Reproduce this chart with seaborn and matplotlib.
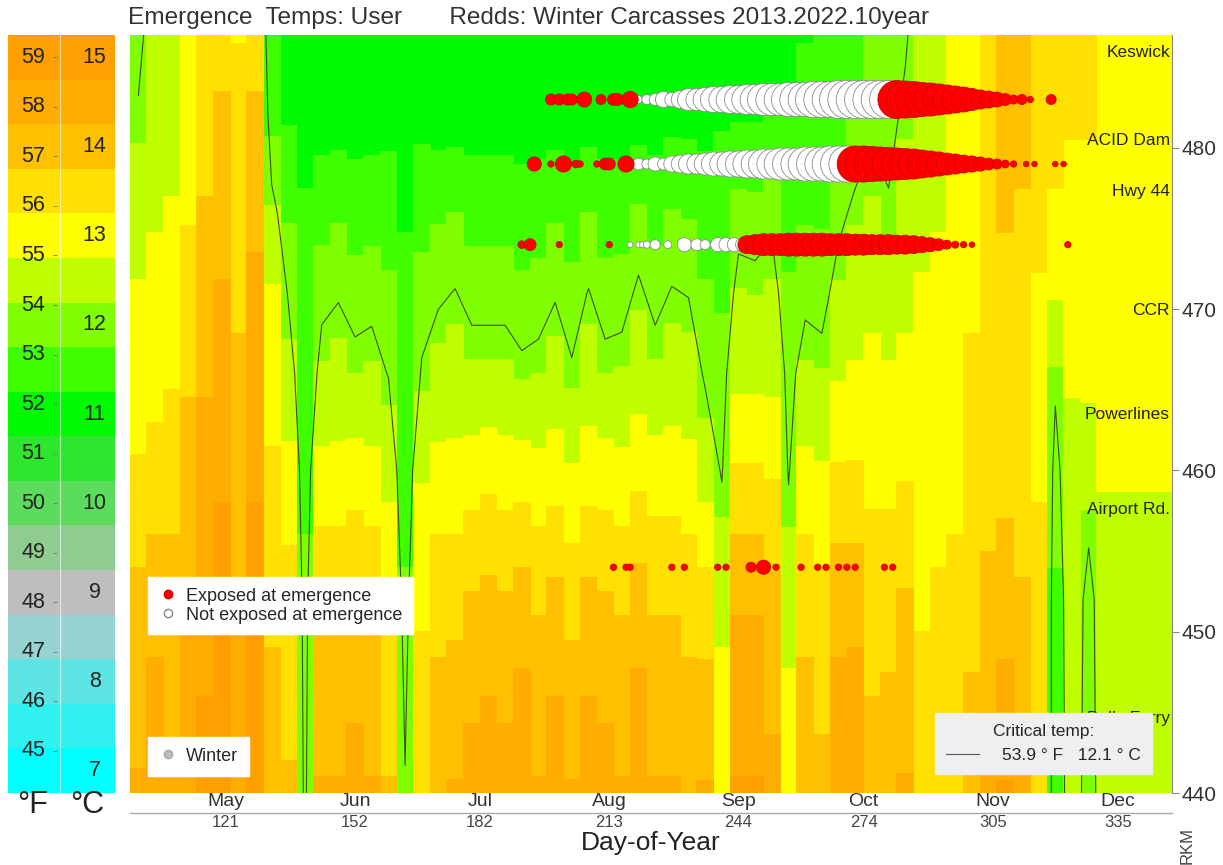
import numpy as np
import pandas as pd
import matplotlib
matplotlib.use("Agg")
import matplotlib.pyplot as plt
import matplotlib.transforms as mtransforms
from matplotlib.lines import Line2D
import seaborn as sns

sns.set_style("white")
plt.rcParams["font.family"] = ["Liberation Sans", "DejaVu Sans"]

# ---------------- data ----------------
title = "Emergence  Temps: User       Redds: Winter Carcasses 2013.2022.10year"

# temperature bands (deg C) and their colours
band_temps = [7.0, 7.5, 8.0, 8.5, 9.0, 9.5, 10.0, 10.5, 11.0, 11.5, 12.0, 12.5,
              13.0, 13.5, 14.0, 14.5, 15.0]
band_colors = ["#00FFFF", "#30F0F0", "#5FE4E4", "#97D3D3", "#BEBEBE", "#8FCC8F",
               "#5CDC5C", "#2EE62E", "#00FA00", "#40FF00", "#80FF00", "#BFFF00",
               "#FFFF00", "#FFE000", "#FFC000", "#FFAD00", "#FF9F00"]
f_labels = [45, 46, 47, 48, 49, 50, 51, 52, 53, 54, 55, 56, 57, 58, 59]
c_labels = [7, 8, 9, 10, 11, 12, 13, 14, 15]

# day bins (4-day) and river km rows (top to bottom)
day_edges = list(range(98, 351, 4))
rkm_rows = [488, 482, 476, 471, 466, 460, 452, 440]

t488 = [11.9, 12.4, 12.2, 12.8, 13.3, 13.6, 13.2, 13.6, 11.2, 11.0, 11.0, 10.8, 10.8, 10.8, 10.8, 10.9,
        10.9, 10.9, 10.8, 10.8, 10.8, 10.8, 10.8, 10.8, 10.8, 10.8, 10.8, 10.8, 10.8, 10.8, 10.8, 10.9,
        10.9, 10.9, 10.9, 11.0, 11.0, 11.0, 11.1, 11.1, 11.2, 11.3, 11.4, 11.5, 11.7, 11.8, 12.0, 12.4,
        12.5, 12.8, 13.0, 13.5, 14.0, 14.0, 13.6, 13.5, 13.4, 13.5, 13.0, 13.0, 13.0, 13.0, 13.0]
t482 = [12.15, 12.5, 12.5, 13.0, 13.5, 13.8, 13.4, 13.8, 11.6, 11.2, 11.1, 11.0, 11.0, 11.0, 11.0, 11.1,
        11.0, 11.1, 11.0, 11.0, 11.0, 11.0, 11.0, 11.0, 11.0, 11.0, 11.0, 11.0, 11.0, 11.0, 11.0, 11.0,
        11.1, 11.1, 11.1, 11.2, 11.2, 11.2, 11.3, 11.3, 11.4, 11.5, 11.6, 11.8, 12.0, 11.95, 12.2, 12.5,
        12.6, 12.9, 13.0, 13.5, 14.0, 13.9, 13.5, 13.4, 13.3, 13.3, 13.0, 13.0, 13.0, 13.0, 13.0]
t476 = [12.5, 12.7, 12.8, 13.2, 13.8, 14.0, 13.6, 14.1, 12.3, 11.7, 11.3, 11.6, 11.7, 11.55, 11.6, 11.5,
        11.2, 11.6, 11.7, 11.75, 11.6, 11.6, 11.6, 11.5, 11.55, 11.7, 11.5, 11.75, 11.55, 11.55, 11.82, 11.6,
        11.77, 11.72, 11.5, 11.5, 11.92, 11.89, 12.0, 11.6, 11.7, 11.7, 11.98, 12.2, 12.3, 12.15, 12.4, 12.6,
        12.7, 13.0, 13.1, 13.5, 13.8, 13.7, 13.4, 13.2, 13.1, 13.1, 13.0, 13.0, 13.0, 13.0, 13.0]
t471 = [12.8, 12.9, 13.0, 13.5, 14.0, 14.3, 13.7, 14.4, 12.8, 12.05, 11.5, 11.97, 12.06, 11.92, 11.96, 11.85,
        11.4, 11.9, 12.03, 12.12, 11.96, 11.96, 11.96, 11.85, 11.9, 12.06, 11.9, 12.12, 11.9, 11.93, 12.18, 11.96,
        12.13, 12.08, 11.8, 11.7, 12.27, 12.24, 12.3, 11.8, 12.0, 11.93, 12.3, 12.5, 12.6, 12.5, 12.6, 12.8,
        12.9, 13.0, 13.2, 13.4, 13.6, 13.5, 13.2, 12.8, 12.9, 13.0, 13.0, 13.0, 13.0, 13.0, 13.0]
t466 = [13.0, 13.1, 13.2, 13.7, 14.2, 14.5, 13.8, 14.6, 13.1, 12.4, 11.6, 12.3, 12.4, 12.25, 12.3, 12.08,
        11.5, 12.15, 12.38, 12.45, 12.31, 12.31, 12.31, 12.2, 12.25, 12.41, 12.15, 12.45, 12.25, 12.28, 12.5, 12.31,
        12.45, 12.43, 12.03, 11.9, 12.6, 12.6, 12.6, 11.95, 12.3, 12.27, 12.7, 12.8, 12.9, 12.8, 12.9, 13.0,
        13.0, 13.1, 13.3, 13.4, 13.5, 13.4, 13.1, 12.2, 12.8, 12.9, 13.0, 13.0, 13.0, 13.0, 13.0]
t460 = [13.3, 13.4, 13.5, 13.9, 14.4, 14.7, 13.9, 14.7, 13.3, 12.9, 11.7, 12.9, 12.9, 13.0, 12.9, 12.6,
        11.6, 12.7, 12.9, 12.9, 13.0, 13.1, 13.0, 13.0, 12.9, 13.0, 12.8, 13.0, 13.0, 12.9, 13.1, 13.0,
        13.0, 12.9, 12.5, 12.05, 13.3, 13.3, 13.2, 12.05, 12.9, 12.8, 13.3, 13.3, 13.1, 13.1, 13.2, 13.1,
        13.1, 13.2, 13.4, 13.5, 13.6, 13.5, 13.2, 11.9, 12.6, 12.4, 12.8, 12.8, 12.8, 12.8, 12.8]
t452 = [13.9, 14.1, 14.0, 14.3, 14.7, 14.9, 14.3, 14.9, 13.7, 13.5, 11.8, 13.7, 13.7, 13.8, 13.7, 13.2,
        11.8, 13.2, 13.6, 13.6, 13.8, 13.9, 13.8, 14.0, 13.7, 13.9, 13.6, 13.9, 13.8, 13.7, 14.0, 13.7,
        13.7, 13.6, 13.5, 12.6, 14.2, 14.2, 13.9, 12.5, 13.6, 13.4, 14.1, 14.1, 13.6, 13.6, 13.8, 13.2,
        13.3, 13.3, 13.6, 13.9, 14.0, 13.8, 13.4, 11.7, 12.5, 11.9, 12.5, 12.5, 12.5, 12.5, 12.5]
t440 = [14.3, 14.6, 14.3, 14.5, 14.8, 15.0, 14.5, 14.8, 13.9, 13.8, 11.9, 14.3, 14.3, 14.5, 14.3, 13.8,
        12.15, 13.5, 14.1, 14.3, 14.5, 14.6, 14.5, 14.7, 14.3, 14.6, 14.3, 14.6, 14.5, 14.3, 14.7, 14.3,
        14.3, 14.1, 14.3, 13.2, 14.8, 14.8, 14.4, 13.2, 14.1, 13.9, 14.6, 14.7, 13.9, 14.0, 14.3, 13.5,
        13.7, 13.7, 14.0, 14.5, 14.8, 14.5, 13.7, 11.6, 12.5, 11.8, 12.5, 12.5, 12.5, 12.5, 12.5]
critical_c = 12.1

# redd emergence bubbles: (day, redd count) per reach, exposed or not
r1_rkm = 483
r1_pre_days = [199, 201, 203, 204, 207, 211, 214, 215, 218]
r1_pre_n = [12, 12, 12, 12, 22, 10, 14, 14, 26]
r1_white_days = list(range(220, 281, 2))
r1_white_n = [6, 10, 14, 26, 20, 32, 48, 48, 58, 68, 68, 78, 78, 90, 90, 102, 102, 102, 116, 116,
              116, 130, 130, 130, 144, 144, 144, 144, 144, 144, 144]
r1_red_days = list(range(282, 313, 2)) + [314, 319]
r1_red_n = [144, 137, 130, 116, 109, 96, 84, 73, 62, 48, 36, 29, 22, 14, 8, 10, 4, 10]

r2_rkm = 479
r2_pre_days = [195, 199, 202, 205, 206, 210, 212, 213, 217]
r2_pre_n = [20, 4, 26, 6, 4, 4, 14, 14, 26]
r2_white_days = list(range(218, 271, 2))
r2_white_n = [10, 14, 10, 20, 14, 26, 32, 40, 40, 48, 58, 58, 68, 68, 78, 78, 90, 90, 102, 102,
              102, 116, 116, 116, 130, 130, 130]
r2_red_days = list(range(272, 311, 2)) + [313, 315, 320, 322]
r2_red_n = [130, 130, 122, 116, 109, 102, 96, 90, 78, 68, 58, 48, 40, 32, 26, 20, 14, 10, 6, 4,
            3, 3, 3, 3]

r3_rkm = 474
r3_pre_days = [192, 194, 201, 213]
r3_pre_n = [6, 14, 4, 4]
r3_white_days = [218, 220, 221, 222, 224, 227, 231, 234, 236, 239, 241, 243, 245]
r3_white_n = [3, 3, 4, 5, 10, 6, 20, 14, 10, 20, 20, 20, 20]
r3_red_days = list(range(246, 301, 2)) + [323]
r3_red_n = [32, 40, 48, 48, 48, 53, 53, 53, 53, 53, 48, 48, 48, 44, 44, 40, 40, 40, 36, 36,
            32, 26, 20, 14, 8, 5, 4, 3, 4]

r4_rkm = 454
r4_red_days = [214, 217, 218, 228, 231, 239, 241, 247, 250, 253, 259, 263, 265, 268, 270, 272, 279, 281]
r4_red_n = [4, 4, 4, 4, 4, 4, 4, 10, 20, 4, 4, 4, 4, 4, 4, 4, 4, 4]

month_names = ["May", "Jun", "Jul", "Aug", "Sep", "Oct", "Nov", "Dec"]
month_days = [121, 152, 182, 213, 244, 274, 305, 335]
rkm_ticks = [440, 450, 460, 470, 480]
site_names = ["Keswick", "ACID Dam", "Hwy 44", "CCR", "Powerlines", "Airport Rd.", "Balls Ferry"]
site_rkm = [485.9, 480.45, 477.3, 469.9, 463.45, 457.6, 444.65]

# ---------------- figure ----------------
W, H = 1223, 865
fig = plt.figure(figsize=(W / 100, H / 100), dpi=100)
ax = fig.add_axes([130 / W, 72 / H, 1042 / W, 758 / H])

levels = [band_temps[0] - 0.25] + [b + 0.25 for b in band_temps]
T = np.array([t488, t482, t476, t471, t466, t460, t452, t440])[::-1]
rk = np.array(rkm_rows)[::-1]
edges = np.array(day_edges, dtype=float)
xs = np.column_stack([edges[:-1], edges[1:] - 1e-3]).ravel()
Z = np.repeat(T, 2, axis=1)
ax.contourf(xs, rk, Z, levels=levels, colors=band_colors, antialiased=False, zorder=1)
centers = (edges[:-1] + edges[1:]) / 2
ax.contour(centers, rk, T, levels=[critical_c], colors="#3f4f22", linewidths=0.8, zorder=2)

# bubbles
frames = []
for rkm, groups in [
    (r1_rkm, [(r1_pre_days, r1_pre_n, True), (r1_white_days, r1_white_n, False), (r1_red_days, r1_red_n, True)]),
    (r2_rkm, [(r2_pre_days, r2_pre_n, True), (r2_white_days, r2_white_n, False), (r2_red_days, r2_red_n, True)]),
    (r3_rkm, [(r3_pre_days, r3_pre_n, True), (r3_white_days, r3_white_n, False), (r3_red_days, r3_red_n, True)]),
    (r4_rkm, [(r4_red_days, r4_red_n, True)]),
]:
    for d, n, e in groups:
        frames.append(pd.DataFrame({"day": d, "rkm": rkm, "redds": n, "exposed": e}))
bub = pd.concat(frames, ignore_index=True)
k = 5.2
for exp, fc, ec in [(False, "white", "#8a8a8a"), (True, "#FF0000", "#D00000")]:
    sub = bub[bub["exposed"] == exp]
    sns.scatterplot(data=sub, x="day", y="rkm", size="redds", sizes=(0, 150 * k), size_norm=(0, 150),
                    color=fc, edgecolor=ec, linewidth=0.6, legend=False, ax=ax, zorder=4)

ax.set_xlim(98, 348)
ax.set_ylim(440, 487)
ax.set_xlabel("")
ax.set_ylabel("")
for s in ["top", "left", "bottom"]:
    ax.spines[s].set_visible(False)
ax.spines["right"].set_color("#888888")
ax.spines["right"].set_linewidth(0.8)

ax.yaxis.tick_right()
ax.set_yticks(rkm_ticks)
ax.tick_params(axis="y", direction="out", length=5, width=0.8, color="#888888",
               labelsize=15, labelcolor="#333333", pad=2)
ax.set_xticks(month_days)
ax.set_xticklabels(month_names, fontsize=14, color="#333333")
ax.tick_params(axis="x", length=0, pad=0)

sec = ax.secondary_xaxis(-0.026)
sec.set_xticks(month_days)
sec.set_xticklabels([str(d) for d in month_days], fontsize=12, color="#444444")
sec.tick_params(length=0, pad=2)
sec.spines["bottom"].set_color("#aaaaaa")
sec.spines["bottom"].set_linewidth(1.0)

# site labels
trans = mtransforms.blended_transform_factory(ax.transAxes, ax.transData)
for nm, r in zip(site_names, site_rkm):
    ax.text(0.998, r, nm, transform=trans, ha="right", va="center", fontsize=12.5,
            color="#222222", zorder=3)

# legends
h1 = [Line2D([], [], ls="", marker="o", markersize=6, markerfacecolor="#FF0000", markeredgecolor="#D00000"),
      Line2D([], [], ls="", marker="o", markersize=6, markerfacecolor="white", markeredgecolor="#8a8a8a")]
leg1 = ax.legend(h1, ["Exposed at emergence", "Not exposed at emergence"], loc="upper left",
                 bbox_to_anchor=(0.0173, 0.285), borderaxespad=0, frameon=True, fancybox=False,
                 framealpha=1, facecolor="white", edgecolor="white", fontsize=13,
                 handlelength=1.0, handletextpad=0.5, borderpad=0.6, labelspacing=0.1)
leg1.set_zorder(6)
ax.add_artist(leg1)
h2 = [Line2D([], [], ls="", marker="o", markersize=6, markerfacecolor="#BBBBBB", markeredgecolor="#AAAAAA")]
leg2 = ax.legend(h2, ["Winter"], loc="upper left", bbox_to_anchor=(0.0173, 0.0739), borderaxespad=0,
                 frameon=True, fancybox=False, framealpha=1, facecolor="white", edgecolor="white",
                 fontsize=13, handlelength=1.0, handletextpad=0.5, borderpad=0.6)
leg2.set_zorder(6)
ax.add_artist(leg2)
h3 = [Line2D([], [], color="#555555", lw=0.8)]
leg3 = ax.legend(h3, ["53.9 \u00b0 F   12.1 \u00b0 C"], title="Critical temp:", loc="upper left",
                 bbox_to_anchor=(0.7726, 0.1055), borderaxespad=0, frameon=True, fancybox=False,
                 framealpha=1, facecolor="#EFEFEF", edgecolor="#EFEFEF", fontsize=12.5,
                 title_fontsize=12.5, handlelength=1.9, handletextpad=1.3, borderpad=0.65)
leg3.set_zorder(6)

# colour key on the left
cax = fig.add_axes([8 / W, 72 / H, 107 / W, 758 / H])
cax.barh(band_temps, width=1.0, height=0.5, left=0, color=band_colors, linewidth=0)
cax.set_xlim(0, 1)
cax.set_ylim(band_temps[0] - 0.25, band_temps[-1] + 0.25)
cax.axis("off")
cax.axvline(0.49, color="white", lw=0.8, alpha=0.6)
f_pos = [(f - 32) / 1.8 for f in f_labels]
for f, y in zip(f_labels, f_pos):
    cax.text(0.235, y, str(f), ha="center", va="center", fontsize=15.5, color="#222222")
cax.scatter([0.44] * len(f_pos), f_pos, marker="_", s=12, color="#777777", linewidths=0.6)
for c in c_labels:
    cax.text(0.81, c, str(c), ha="center", va="center", fontsize=15.5, color="#222222")

fig.text(33 / W, 1 - 805 / H, "\u00b0F", ha="center", va="center", fontsize=22, color="#222222")
fig.text(87 / W, 1 - 805 / H, "\u00b0C", ha="center", va="center", fontsize=22, color="#222222")
fig.text(128 / W, 1 - 18 / H, title, ha="left", va="center", fontsize=17.6, color="#333333")
fig.text(651 / W, 1 - 843 / H, "Day-of-Year", ha="center", va="center", fontsize=19,
         color="#222222")
fig.text(1187 / W, 1 - 845 / H, "RKM", ha="center", va="center", rotation=90, fontsize=12,
         color="#444444")

fig.savefig("out.png", dpi=100)
